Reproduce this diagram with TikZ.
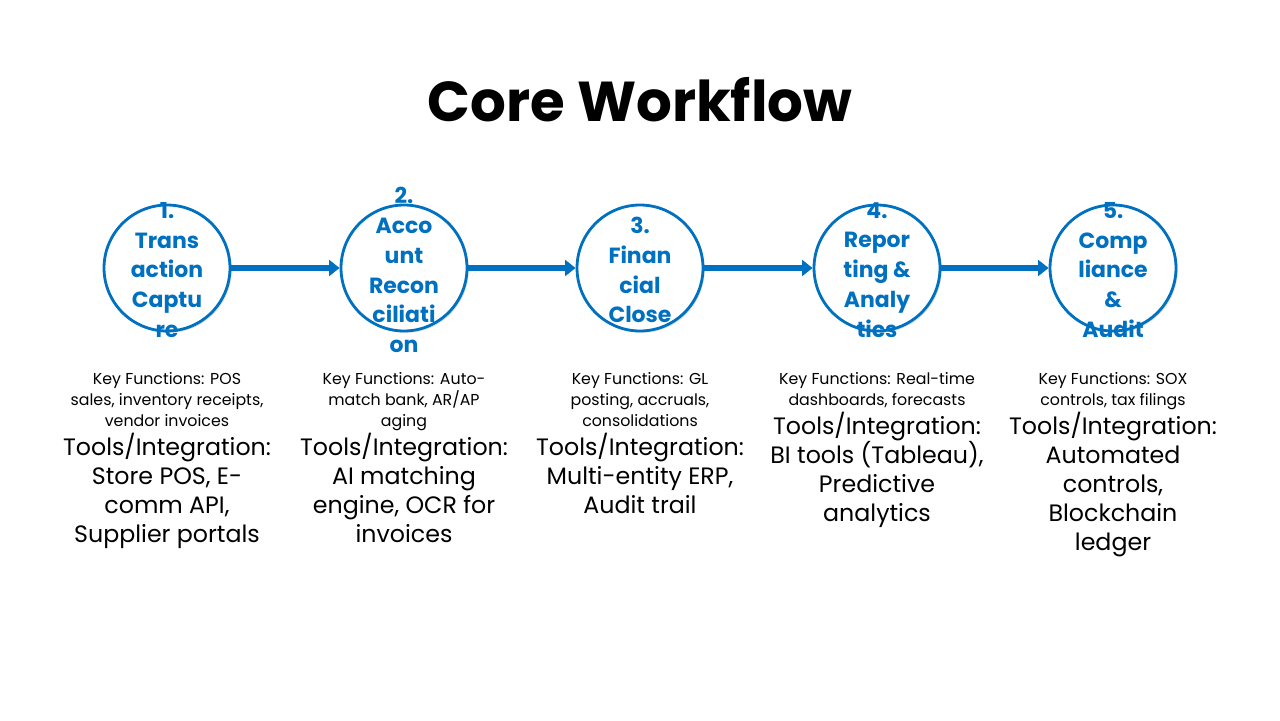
\documentclass[tikz,border=0pt]{standalone}
\usepackage{fontspec}
\setmainfont{Poppins}
\usetikzlibrary{arrows.meta,shadows}
\definecolor{blu}{HTML}{0070C0}
\tikzset{
 stage/.style={circle,draw=blu,line width=1.6pt,fill=white,minimum size=2.52cm,inner sep=0pt,drop shadow={opacity=0.25,shadow xshift=1pt,shadow yshift=-1pt}},
 stagetxt/.style={text=blu,font=\fontsize{12.5}{17}\selectfont\bfseries,align=center},
 keyf/.style={font=\fontsize{9}{12}\selectfont,align=center,anchor=north},
 tools/.style={font=\fontsize{13.5}{16.5}\selectfont,align=center,anchor=north},
 flow/.style={blu,line width=3pt,-{Triangle[length=6pt,width=9pt]}}
}
\begin{document}
\begin{tikzpicture}[x=0.02cm,y=-0.02cm]
\useasboundingbox (0,0) rectangle (1280,720);
\node[font=\fontsize{32}{38}\selectfont\bfseries] (title) at (640,100) {Core Workflow};
\node[stage] (c1) at (167,268) {}; \node[stagetxt] (t1) at (167,270) {1.\\Trans\\action\\Captu\\re};
\node[stage] (c2) at (404,268) {}; \node[stagetxt] (t2) at (404,270) {2.\\Acco\\unt\\Recon\\ciliati\\on};
\node[stage] (c3) at (640,268) {}; \node[stagetxt] (t3) at (640,270) {3.\\Finan\\cial\\Close};
\node[stage] (c4) at (877,268) {}; \node[stagetxt] (t4) at (877,270) {4.\\Repor\\ting \&\\Analy\\tics};
\node[stage] (c5) at (1113,268) {}; \node[stagetxt] (t5) at (1113,270) {5.\\Comp\\liance\\\&\\Audit};
\draw[flow] (c1) -- (c2);
\draw[flow] (c2) -- (c3);
\draw[flow] (c3) -- (c4);
\draw[flow] (c4) -- (c5);
\node[keyf] (k1) at (167,366) {Key Functions: POS\\sales, inventory receipts,\\vendor invoices};
\node[tools] (o1) at (167,427) {Tools/Integration:\\Store POS, E-\\comm API,\\Supplier portals};
\node[keyf] (k2) at (404,366) {Key Functions: Auto-\\match bank, AR/AP\\aging};
\node[tools] (o2) at (404,427) {Tools/Integration:\\AI matching\\engine, OCR for\\invoices};
\node[keyf] (k3) at (640,366) {Key Functions: GL\\posting, accruals,\\consolidations};
\node[tools] (o3) at (640,427) {Tools/Integration:\\Multi-entity ERP,\\Audit trail};
\node[keyf] (k4) at (877,366) {Key Functions: Real-time\\dashboards, forecasts};
\node[tools] (o4) at (877,406) {Tools/Integration:\\BI tools (Tableau),\\Predictive\\analytics};
\node[keyf] (k5) at (1113,366) {Key Functions: SOX\\controls, tax filings};
\node[tools] (o5) at (1113,406) {Tools/Integration:\\Automated\\controls,\\Blockchain\\ledger};
\end{tikzpicture}
\end{document}
